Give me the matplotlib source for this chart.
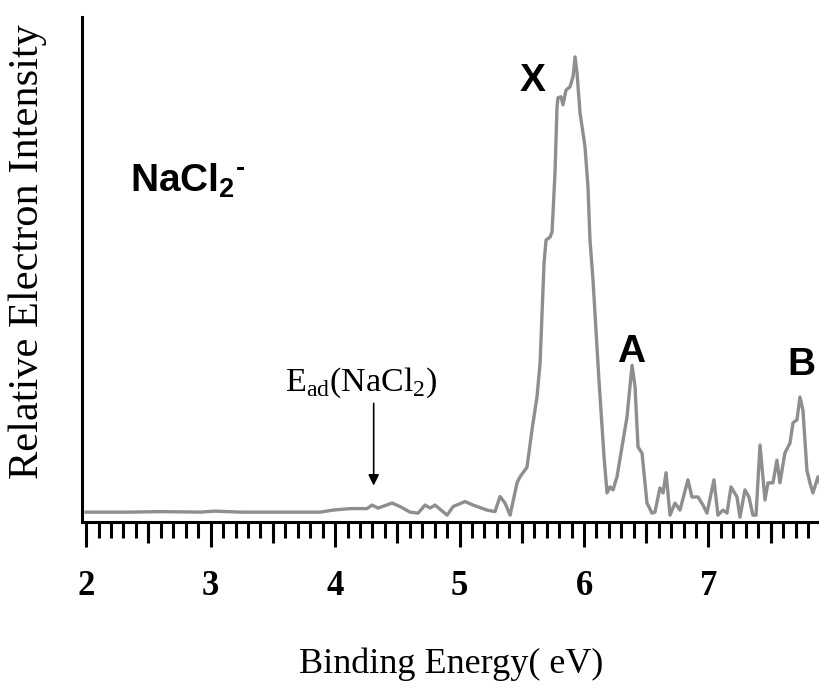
import matplotlib
matplotlib.use("Agg")
import matplotlib.pyplot as plt
from matplotlib.ticker import MultipleLocator, FixedLocator
import numpy as np

plt.rcParams["font.family"] = ["Liberation Serif", "DejaVu Serif"]
plt.rcParams["mathtext.fontset"] = "custom"
plt.rcParams["mathtext.rm"] = "Liberation Serif"

# photoelectron spectrum of NaCl2-: binding energy (eV) vs intensity (arb. units)
energy = [
    2.000, 2.353, 2.594, 2.916, 3.036, 3.237, 3.558, 3.880, 3.984, 4.120,
    4.257, 4.297, 4.345, 4.458, 4.522, 4.602, 4.667, 4.723, 4.763, 4.803,
    4.900, 4.948, 5.044, 5.108, 5.221, 5.285, 5.325, 5.365, 5.406, 5.462,
    5.486, 5.542, 5.582, 5.622, 5.647, 5.663, 5.679, 5.695, 5.727, 5.743,
    5.767, 5.783, 5.791, 5.815, 5.831, 5.855, 5.888, 5.912, 5.928, 5.944,
    5.968, 6.008, 6.032, 6.048, 6.072, 6.120, 6.161, 6.185, 6.209, 6.233,
    6.265, 6.345, 6.386, 6.410, 6.434, 6.466, 6.506, 6.546, 6.570, 6.610,
    6.635, 6.659, 6.691, 6.731, 6.771, 6.835, 6.867, 6.916, 6.956, 6.988,
    7.044, 7.076, 7.116, 7.149, 7.181, 7.229, 7.253, 7.293, 7.325, 7.357,
    7.382, 7.414, 7.454, 7.478, 7.518, 7.550, 7.574, 7.614, 7.655, 7.679,
    7.711, 7.735, 7.759, 7.791, 7.815, 7.839, 7.880, 7.896,
]
intensity = [
    1.9, 1.9, 2.0, 1.9, 2.1, 1.9, 1.9, 1.9, 2.3, 2.6,
    2.6, 3.3, 2.7, 3.7, 3.0, 1.9, 1.7, 3.3, 2.7, 3.3,
    1.3, 3.0, 4.0, 3.3, 2.3, 2.0, 5.0, 3.7, 1.3, 7.7,
    8.9, 10.8, 18.2, 24.7, 31.4, 41.4, 51.3, 55.8, 56.4, 57.4,
    69.1, 82.2, 84.0, 84.2, 82.6, 85.5, 86.2, 88.2, 92.1, 88.9,
    81.0, 74.3, 66.3, 55.8, 48.0, 28.1, 12.8, 5.7, 6.9, 6.3,
    8.9, 20.7, 31.0, 26.7, 14.8, 13.6, 3.7, 1.7, 1.9, 6.7,
    5.7, 9.7, 1.3, 3.7, 2.3, 8.3, 4.9, 4.9, 3.3, 1.7,
    8.3, 1.3, 2.3, 1.7, 6.9, 4.9, 0.9, 6.3, 4.9, 1.3,
    1.3, 15.2, 4.3, 7.7, 7.7, 12.2, 7.7, 13.6, 15.6, 19.6,
    20.2, 24.7, 22.1, 10.2, 7.7, 5.7, 8.9, 7.7,
]

major_ticks = [2, 3, 4, 5, 6, 7]
half_ticks = [2.5, 3.5, 4.5, 5.5, 6.5, 7.5]
tick_labels = ["2", "3", "4", "5", "6", "7"]

# band labels: (text, energy, intensity)
bands = [("X", 5.585, 87.3), ("A", 6.378, 33.6), ("B", 7.743, 31.0)]
e_ad = 4.31

fig = plt.figure(figsize=(8.2, 6.89), dpi=100)
ax = fig.add_axes([0.0996, 0.2428, 0.9004, 0.7325])

ax.plot(energy, intensity, color="#8e8e8e", lw=2.4, solid_joinstyle="round")

ax.set_xlim(1.964, 7.896)
ax.set_ylim(0, 100)

for side in ("top", "right"):
    ax.spines[side].set_visible(False)
for side in ("left", "bottom"):
    ax.spines[side].set_linewidth(2.2)
    ax.spines[side].set_color("black")

ax.set_yticks([])
ax.xaxis.set_major_locator(FixedLocator(major_ticks))
ax.set_xticklabels(tick_labels)
ax.xaxis.set_minor_locator(MultipleLocator(0.1))
ax.tick_params(axis="x", which="major", direction="out", length=18, width=2.2,
               pad=17, labelsize=25)
ax.tick_params(axis="x", which="minor", direction="out", length=11.5, width=2.2)
for lbl in ax.get_xticklabels():
    lbl.set_fontweight("bold")

# medium ticks at the half-eV marks
sec = ax.secondary_xaxis("bottom")
sec.spines["bottom"].set_visible(False)
sec.set_xticks(half_ticks)
sec.set_xticklabels([])
sec.tick_params(axis="x", direction="out", length=15, width=2.2)

ax.set_xlabel("Binding Energy( eV)", fontsize=26, labelpad=32)
ax.set_ylabel("Relative Electron Intensity", fontsize=30.5)
ax.yaxis.set_label_coords(-0.047, 0.535)

for text, x, y in bands:
    ax.text(x, y, text, family="Liberation Sans", fontweight="bold",
            fontsize=28, ha="center", va="center")

ax.text(2.35, 67.5, "NaCl$_{\\mathregular{2}}{}^{\\mathregular{\u2010}}$",
        family="Liberation Sans", fontweight="bold", fontsize=28,
        ha="left", va="center")

ax.text(4.21, 27.5, r"E$_{\mathregular{ad}}$(NaCl$_{\mathregular{2}}$)",
        fontsize=24.5, ha="center", va="center")
ax.annotate("", xy=(e_ad, 6.6), xytext=(e_ad, 24),
            arrowprops=dict(arrowstyle="-|>", color="black", lw=1.2,
                            mutation_scale=16))

fig.savefig("out.png", dpi=100)
